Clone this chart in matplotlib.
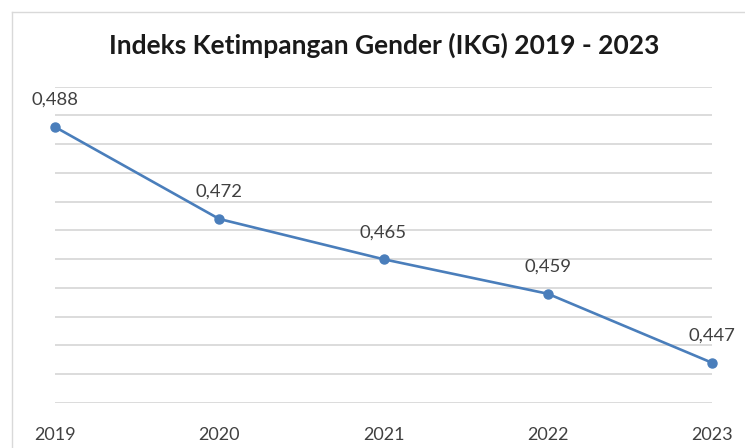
import numpy as np
import matplotlib.pyplot as plt
from matplotlib.lines import Line2D

years = ['2019', '2020', '2021', '2022', '2023']
ikg = [0.488, 0.472, 0.465, 0.459, 0.447]
title = 'Indeks Ketimpangan Gender (IKG) 2019 - 2023'

plt.rcParams['font.family'] = ['Lato', 'DejaVu Sans']

fig = plt.figure(figsize=(7.45, 4.48), dpi=100)
ax = fig.add_axes([55/745, 1-403/448, (712-55)/745, (403-86.7)/448])

x = np.arange(len(years))
ax.plot(x, ikg, color='#4a7ebb', lw=1.9, marker='o', ms=6.5, clip_on=False, zorder=3)
for xi, v in zip(x, ikg):
    ax.annotate(('%.3f' % v).replace('.', ','), (xi, v), xytext=(0, 19.5),
                textcoords='offset points', ha='center', va='center',
                fontsize=13.3, color='#404040')

ax.set_xlim(0, len(years)-1)
ax.set_ylim(0.44, 0.495)
ax.set_yticks(np.arange(0.44, 0.4951, 0.005))
ax.set_yticklabels([])
ax.tick_params(axis='y', length=0)
ax.set_xticks(x)
ax.set_xticklabels(years, fontsize=13, color='#404040')
ax.tick_params(axis='x', length=0, pad=17)
ax.grid(axis='y', color='#d9d9d9', lw=1.3)
for s in ax.spines.values():
    s.set_visible(False)

fig.text(384/745, 1-45/448, title, ha='center', va='center',
         fontsize=19, fontweight='bold', color='#1a1a1a')

# chart border (top and left)
fig.add_artist(Line2D([12/745, 12/745], [1-12/448, 0], color='#d9d9d9', lw=1))
fig.add_artist(Line2D([12/745, 1], [1-12/448, 1-12/448], color='#d9d9d9', lw=1))

fig.savefig('out.png', dpi=100)
